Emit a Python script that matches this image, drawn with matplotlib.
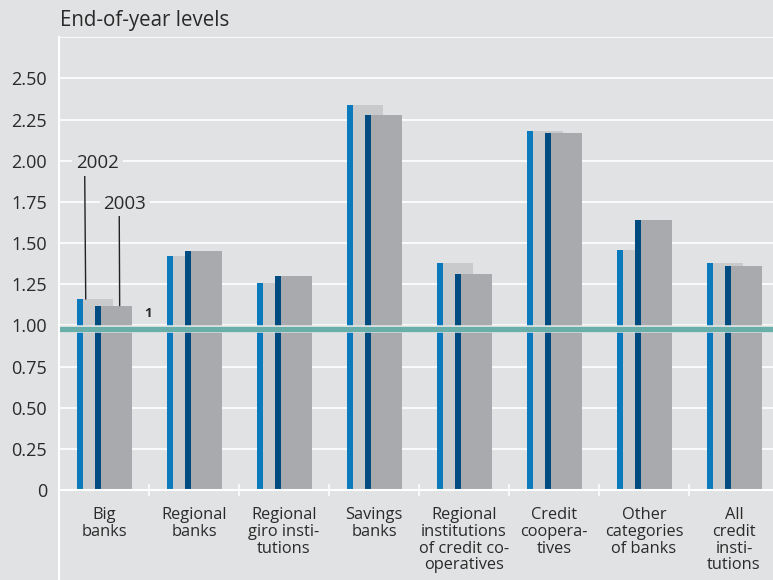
import numpy as np
import matplotlib.pyplot as plt
from matplotlib.lines import Line2D

plt.rcParams['font.family'] = ['Open Sans', 'DejaVu Sans']

categories = ["Big\nbanks", "Regional\nbanks", "Regional\ngiro insti-\ntutions",
              "Savings\nbanks", "Regional\ninstitutions\nof credit co-\noperatives",
              "Credit\ncoopera-\ntives", "Other\ncategories\nof banks",
              "All\ncredit\ninsti-\ntutions"]
levels_2002 = [1.16, 1.42, 1.26, 2.34, 1.38, 2.18, 1.46, 1.38]
levels_2003 = [1.12, 1.45, 1.30, 2.28, 1.31, 2.17, 1.64, 1.36]
ref_level = 0.98
y_ticks = [0, 0.25, 0.5, 0.75, 1.0, 1.25, 1.5, 1.75, 2.0, 2.25, 2.5, 2.75]

bg = '#e1e2e3'
light_blue = '#0a7abd'
dark_blue = '#004b80'
light_grey = '#c9cacc'
dark_grey = '#a9aaad'
teal = '#69aea9'
txt = '#2a2a2a'

fig = plt.figure(figsize=(7.73, 5.8), dpi=100, facecolor=bg)
ax = fig.add_axes([59 / 773, 1 - 490 / 580, 720 / 773, (490 - 37.3) / 580])
ax.set_facecolor(bg)

x = np.arange(len(categories))
bw = 0.407
strip = 0.07
# 2002 bars: light grey with blue strip on the left
ax.bar(x + 0.197, levels_2002, width=bw, align='edge', color=light_grey, zorder=3)
ax.bar(x + 0.197, levels_2002, width=strip, align='edge', color=light_blue, zorder=3)
# 2003 bars: darker grey, shifted right and drawn on top
ax.bar(x + 0.40, levels_2003, width=bw, align='edge', color=dark_grey, zorder=4)
ax.bar(x + 0.40, levels_2003, width=strip - 0.004, align='edge', color=dark_blue, zorder=4)

# reference line
ax.axhline(ref_level, color='#e6e8e8', lw=5.4, zorder=5)
ax.axhline(ref_level, color=teal, lw=3.8, zorder=6)

ax.set_xlim(0, len(categories))
ax.set_ylim(0, 2.75)
ax.set_yticks(y_ticks)
ax.set_yticklabels(['0' if v == 0 else ('' if v == 2.75 else f'{v:.2f}') for v in y_ticks])
ax.grid(axis='y', color='white', lw=1.2)
ax.set_axisbelow(True)
ax.tick_params(axis='y', length=0, pad=8.5, labelsize=13, labelcolor=txt)

ax.set_xticks(np.arange(1, len(categories)))
ax.set_xticklabels([])
ax.set_xticks(x + 0.5, minor=True)
ax.set_xticklabels(categories, minor=True, fontsize=11.8, color=txt, linespacing=1.05)
ax.tick_params(axis='x', which='major', direction='inout', length=9, width=1.1, color='white')
ax.tick_params(axis='x', which='minor', length=0, pad=12.5)

for s in ['top', 'right', 'left']:
    ax.spines[s].set_visible(False)
ax.spines['bottom'].set_color('white')
ax.spines['bottom'].set_linewidth(1.5)
ax.spines['bottom'].set_zorder(7)

# left axis line runs down through the label area
fig.add_artist(Line2D([59 / 773, 59 / 773], [0, 1 - 37.3 / 580], color='white', lw=1.5))

# year callouts
ax.annotate('2002', xy=(0.297, levels_2002[0]), xytext=(0.428, 1.985),
            fontsize=13.5, color=txt, ha='center', va='center', zorder=8,
            bbox=dict(boxstyle='square,pad=0.2', fc=bg, ec='none'),
            arrowprops=dict(arrowstyle='-', color='#222222', lw=1,
                            shrinkA=0, shrinkB=0,
                            relpos=(0.2, 0.0)))
ax.annotate('2003', xy=(0.674, levels_2003[0]), xytext=(0.731, 1.74),
            fontsize=13.5, color=txt, ha='center', va='center', zorder=8,
            bbox=dict(boxstyle='square,pad=0.2', fc=bg, ec='none'),
            arrowprops=dict(arrowstyle='-', color='#222222', lw=1,
                            shrinkA=0, shrinkB=0,
                            relpos=(0.37, 0.0)))
ax.text(0.989, 1.07, '1', fontsize=9.5, fontweight='bold', color=txt,
        ha='center', va='center', zorder=8)

fig.text(60 / 773, 1 - 26 / 580, 'End-of-year levels', fontsize=14.8, color=txt,
         ha='left', va='baseline')

fig.savefig('out.png', dpi=100, facecolor=bg)
